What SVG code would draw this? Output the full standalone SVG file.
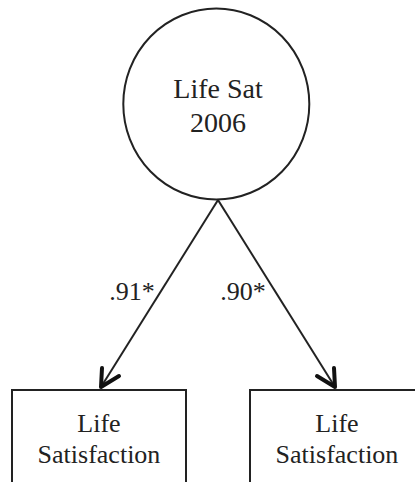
<svg xmlns="http://www.w3.org/2000/svg" width="415" height="482" viewBox="0 0 415 482">
  <style>
    .shape { fill: #fff; stroke: #222; stroke-width: 2; }
    .edge { fill: none; stroke: #222; stroke-width: 2; }
    .head { fill: none; stroke: #111; stroke-width: 4; stroke-linecap: round; stroke-linejoin: round; }
    text { font-family: 'Liberation Serif', 'DejaVu Serif', serif; fill: #222; text-anchor: middle; }
    .big { font-size: 28px; }
    .box { font-size: 26px; }
    .lab { font-size: 26px; }
  </style>
  <rect width="415" height="482" fill="#fff"/>

  <!-- latent factor -->
  <g id="life-sat-2006">
    <ellipse class="shape" cx="216.3" cy="104" rx="93" ry="95.5"/>
    <text class="big" x="218" y="98" font-family="Liberation Serif">Life Sat</text>
    <text class="big" x="218" y="132" font-family="Liberation Serif">2006</text>
  </g>

  <!-- indicators -->
  <g id="indicator-1">
    <rect class="shape" x="12" y="390" width="174" height="110"/>
    <text class="box" x="99" y="432">Life</text>
    <text class="box" x="99" y="463">Satisfaction</text>
  </g>
  <g id="indicator-2">
    <rect class="shape" x="250" y="390" width="174" height="110"/>
    <text class="box" x="337" y="432">Life</text>
    <text class="box" x="337" y="463">Satisfaction</text>
  </g>

  <!-- loadings -->
  <g id="connectors">
    <line class="edge" x1="218" y1="200" x2="101" y2="387"/>
    <polyline class="head" points="102,368 101,387 119,376"/>
    <line class="edge" x1="218" y1="200" x2="335" y2="387"/>
    <polyline class="head" points="334,368 335,387 317,376"/>
    <text class="lab" x="132" y="300">.91*</text>
    <text class="lab" x="243" y="300">.90*</text>
  </g>
</svg>
